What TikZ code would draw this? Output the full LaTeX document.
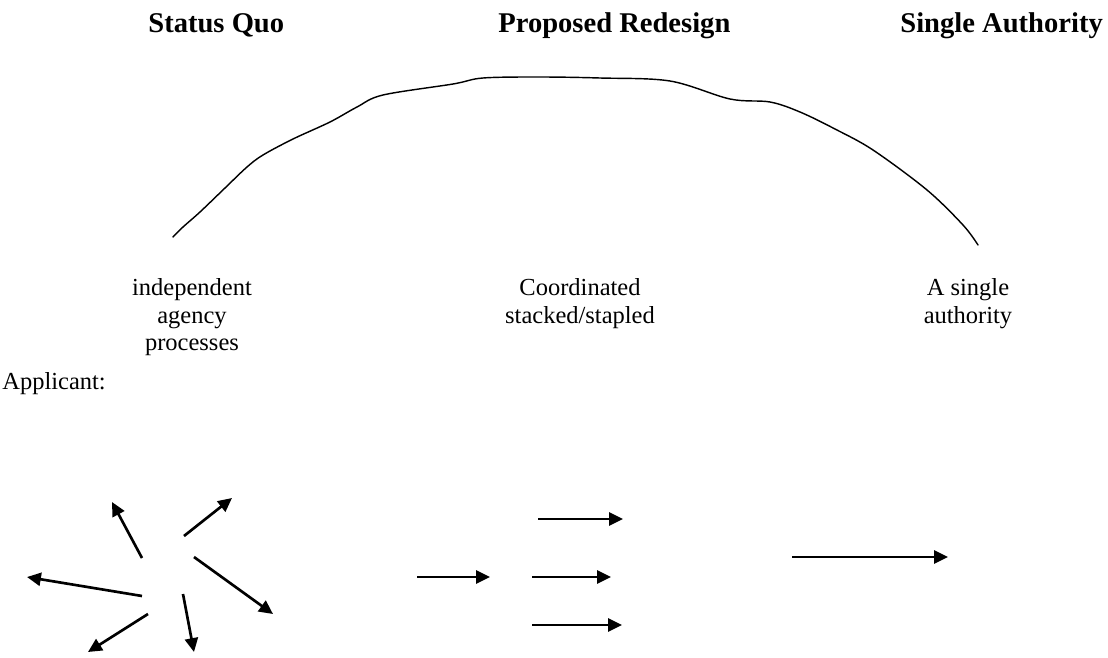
\documentclass[tikz,border=0pt]{standalone}
\usepackage{fontspec}
\setmainfont{Liberation Serif}
\usetikzlibrary{arrows.meta}
\begin{document}
\begin{tikzpicture}[x=0.49pt,y=-0.49pt,
  head/.style={font=\bfseries\fontsize{14}{16}\selectfont,inner sep=0pt,anchor=base west},
  lbl/.style={font=\fontsize{12}{13.6}\selectfont,inner sep=0pt,align=center,anchor=north},
  arr/.style={line width=1.3pt,-{Triangle[length=6.8pt,width=6.4pt]}},
  arc/.style={line width=0.7pt,line cap=round}]
\useasboundingbox (0,0) rectangle (1108,658);
% headings
\node[head] (h1) at (148,32) {Status Quo};
\node[head] (h2) at (498,32) {Proposed Redesign};
\node[head] (h3) at (900,32) {Single Authority};
% curve
\draw[arc] plot[smooth,tension=0.55] coordinates {(173,237) (183,227) (200,212) (225,188) (247,167) (263,155) (293,139) (330,122) (357,107) (383,95) (453,84) (483,78) (540,77) (600,78) (670,81) (730,99) (770,102) (800,112) (835,129) (873,150) (927,190) (963,225) (978,245)};
% labels
\node[lbl] (l1) at (192,278) {independent\\agency\\processes};
\node[lbl] (l2) at (580,278) {Coordinated\\stacked/stapled};
\node[lbl] (l3) at (968,278) {A single\\authority};
\node[font=\fontsize{12}{13.6}\selectfont,inner sep=0pt,anchor=base west] (ap) at (2,389) {Applicant:};
% status quo arrows
\coordinate (s1) at (142,558); \coordinate (e1) at (112,502);
\coordinate (s2) at (184,536); \coordinate (e2) at (232,498);
\coordinate (s3) at (194,557); \coordinate (e3) at (273,614);
\coordinate (s4) at (142,596); \coordinate (e4) at (27,577);
\coordinate (s5) at (148,614); \coordinate (e5) at (88,652);
\coordinate (s6) at (183,594); \coordinate (e6) at (194,652);
\foreach \i in {1,...,6} \draw[arr] (s\i) -- (e\i);
% proposed redesign arrows
\coordinate (m0s) at (417,577); \coordinate (m0e) at (490,577);
\coordinate (m1s) at (538,519); \coordinate (m1e) at (623,519);
\coordinate (m2s) at (532,577); \coordinate (m2e) at (611,577);
\coordinate (m3s) at (532,625); \coordinate (m3e) at (622,625);
\foreach \i in {0,...,3} \draw[arr] (m\i s) -- (m\i e);
% single authority arrow
\coordinate (rs) at (792,557); \coordinate (re) at (948,557);
\draw[arr] (rs) -- (re);
\end{tikzpicture}
\end{document}
